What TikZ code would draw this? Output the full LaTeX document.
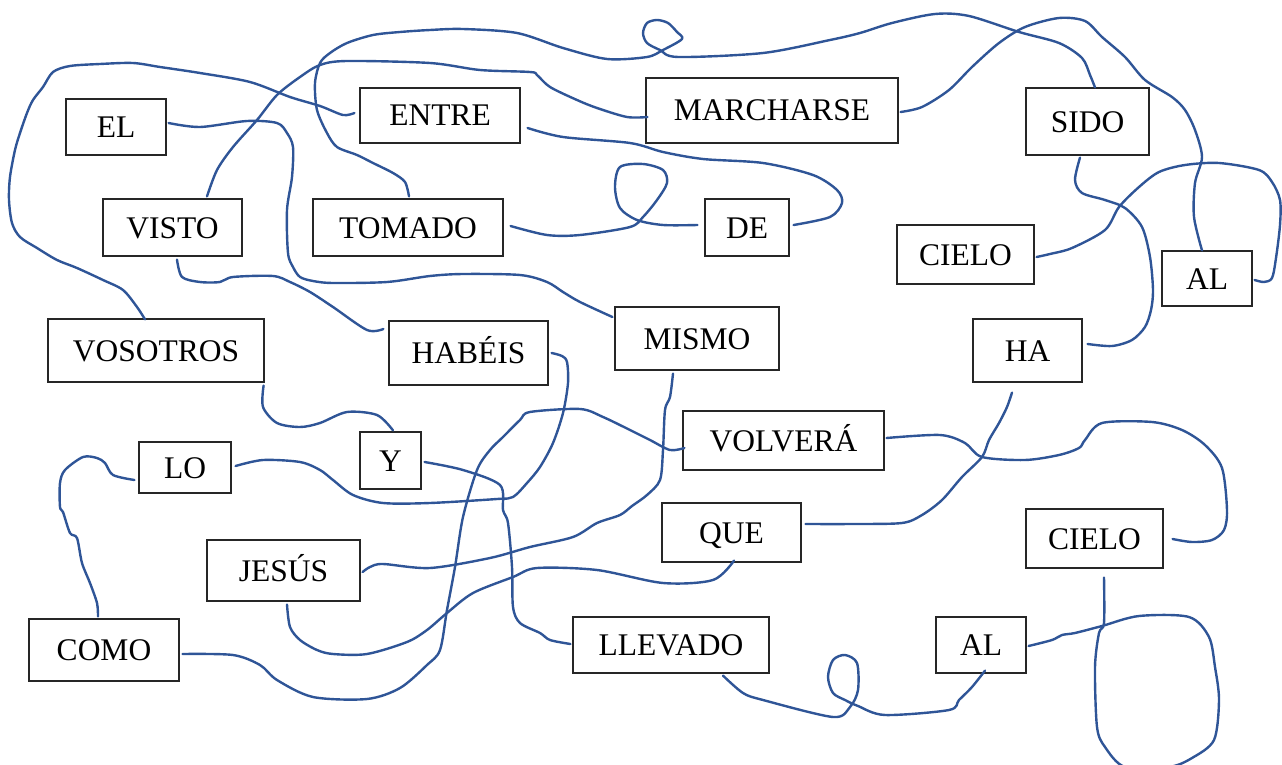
\documentclass[tikz,border=0pt]{standalone}
\usepackage{fontspec}
\setmainfont{Liberation Serif}
\definecolor{wireblue}{RGB}{47,85,151}
\tikzset{
  box/.style={draw=black!85, line width=1.2pt, inner sep=0pt,
    font=\fontsize{31.5}{36}\selectfont, text height=21pt, text depth=0pt},
  wire/.style={draw=wireblue, line width=2.4pt, line cap=round, line join=round},
}
\begin{document}
\begin{tikzpicture}[x=1pt,y=-1pt]
\useasboundingbox (0,0) rectangle (1282,765);
% boxes
\node[box, minimum width=100pt, minimum height=56pt] (el) at (116,127) {EL};
\node[box, minimum width=160pt, minimum height=55pt] (entre) at (440,115.5) {ENTRE};
\node[box, minimum width=252pt, minimum height=65pt] (marcharse) at (772,110.5) {MARCHARSE};
\node[box, minimum width=123pt, minimum height=67pt] (sido) at (1087.5,121.5) {SIDO};
\node[box, minimum width=139pt, minimum height=57pt] (visto) at (172.5,227.5) {VISTO};
\node[box, minimum width=190pt, minimum height=57pt] (tomado) at (408,227.5) {TOMADO};
\node[box, minimum width=84pt, minimum height=57pt] (de) at (747,227.5) {DE};
\node[box, minimum width=137pt, minimum height=59pt] (cieloA) at (965.5,254.5) {CIELO};
\node[box, minimum width=90pt, minimum height=55pt] (alA) at (1207,278.5) {AL};
\node[box, minimum width=216pt, minimum height=63pt] (vosotros) at (156,350.5) {VOSOTROS};
\node[box, minimum width=159pt, minimum height=64pt] (habeis) at (468.5,353) {HABÉIS};
\node[box, minimum width=164pt, minimum height=63pt] (mismo) at (697,338.5) {MISMO};
\node[box, minimum width=109pt, minimum height=63pt] (ha) at (1027.5,350.5) {HA};
\node[box, minimum width=61pt, minimum height=57pt] (y) at (390.5,460.5) {Y};
\node[box, minimum width=92pt, minimum height=51pt] (lo) at (185,467.5) {LO};
\node[box, minimum width=201pt, minimum height=59pt] (volvera) at (783.5,440.5) {VOLVERÁ};
\node[box, minimum width=139pt, minimum height=59pt] (que) at (731.5,532.5) {QUE};
\node[box, minimum width=137pt, minimum height=59pt] (cieloB) at (1094.5,538.5) {CIELO};
\node[box, minimum width=153pt, minimum height=61pt] (jesus) at (283.5,570.5) {JESÚS};
\node[box, minimum width=150pt, minimum height=62pt] (como) at (104,650) {COMO};
\node[box, minimum width=196pt, minimum height=56pt] (llevado) at (671,645) {LLEVADO};
\node[box, minimum width=90pt, minimum height=56pt] (alB) at (981,645) {AL};
% connectors
% EL -> MISMO
\draw[wire] plot[smooth] coordinates {([shift={(2,-4)}]el.east) (200,127) (247,121) (277,123) (287,133) (293,147) (292,177) (287,210) (288,253) (293,267) (300,277) (313,281) (333,283) (387,282) (430,276) (463,274) (520,275) (547,282) (563,292) (580,302) ([shift={(-2,-21.5)}]mismo.west)};
% ENTRE -> VOSOTROS
\draw[wire] plot[smooth] coordinates {([shift={(-5,-2.5)}]entre.west) (343,115) (320,106) (290,97) (250,82) (200,73) (160,67) (133,63) (100,64) (70,66) (53,72) (43,87) (33,100) (27,113) (20,133) (15,150) (10,177) (9,200) (12,223) (20,237) (37,248) (57,260) (77,268) (103,280) (123,290) (137,307) ([shift={(-11,1)}]vosotros.north)};
% VISTO -> MARCHARSE
\draw[wire] plot[smooth] coordinates {([shift={(34.5,-2)}]visto.north) (217,170) (233,147) (257,120) (277,95) (300,77) (320,65) (347,61) (430,63) (480,70) (530,72) (537,75) (550,87) (577,100) (597,108) (627,117) ([shift={(2,6.5)}]marcharse.west)};
% TOMADO -> SIDO
\draw[wire] plot[smooth] coordinates {([shift={(1,-2)}]tomado.north) (405,182) (393,173) (373,163) (357,155) (337,147) (327,133) (317,110) (315,83) (320,63) (330,53) (347,43) (373,35) (400,32) (430,30) (463,29) (517,33) (563,48) (607,59) (647,57) (663,50) (682,39) (677,32) (668,23) (657,20) (647,23) (643,33) (647,43) (660,50) (678,57) (763,53) (830,40) (860,33) (892,23) (935,14) (969,16) (1019,32) (1059,43) (1082,58) (1090,75) ([shift={(7.5,0)}]sido.north)};
% MARCHARSE -> AL
\draw[wire] plot[smooth] coordinates {([shift={(2,1.5)}]marcharse.east) (922,107) (949,90) (972,67) (999,43) (1025,27) (1059,18) (1085,21) (1102,37) (1125,57) (1145,80) (1172,97) (1185,110) (1195,130) (1202,157) (1195,183) (1194,217) ([shift={(-5,0)}]alA.north)};
% AL -> CIELO
\draw[wire] plot[smooth] coordinates {([shift={(2,1.5)}]alA.east) (1264,282) (1272,278) (1276,258) (1280,225) (1280,200) (1272,182) (1259,170) (1219,163) (1185,165) (1159,172) (1139,187) (1119,207) (1105,230) (1072,248) (1050,254) ([shift={(2,2.5)}]cieloA.east)};
% SIDO -> HA
\draw[wire] plot[smooth] coordinates {([shift={(-7.5,2)}]sido.south) (1075,180) (1082,193) (1105,200) (1125,208) (1142,227) (1150,257) (1153,290) (1151,310) (1145,327) (1132,340) (1112,346) ([shift={(5,-6.5)}]ha.east)};
% TOMADO -> DE
\draw[wire] plot[smooth] coordinates {([shift={(7,-1.5)}]tomado.east) (547,235) (580,235) (630,227) (643,217) (657,200) (667,183) (663,170) (643,164) (620,167) (615,187) (620,208) (637,220) (663,225) ([shift={(-7,-2.5)}]de.west)};
% ENTRE -> DE
\draw[wire] plot[smooth] coordinates {([shift={(7,12.5)}]entre.east) (563,137) (630,143) (663,152) (703,159) (763,163) (813,175) (837,190) (842,203) (830,217) ([shift={(4,-2.5)}]de.east)};
% VISTO -> HABEIS
\draw[wire] plot[smooth] coordinates {([shift={(4.5,3)}]visto.south) (182,277) (200,282) (220,282) (233,277) (273,276) (290,282) (310,292) (333,307) (367,330) ([shift={(-5,-24)}]habeis.west)};
% VOSOTROS -> Y
\draw[wire] plot[smooth] coordinates {([shift={(-1,3)}]vosotros.south east) (263,407) (277,423) (300,427) (320,423) (347,412) (377,415) ([shift={(2.5,-1)}]y.north)};
% LO -> COMO
\draw[wire] plot[smooth] coordinates {([shift={(-4,12.5)}]lo.west) (113,475) (105,463) (97,458) (83,457) (65,470) (60,483) (60,507) (63,512) (70,533) (77,538) (82,563) (90,583) (97,603) ([shift={(-6,-2)}]como.north)};
% LO -> HABEIS
\draw[wire] plot[smooth] coordinates {([shift={(4,-1.5)}]lo.east) (263,460) (300,462) (320,470) (333,480) (353,495) (383,503) (430,503) (497,499) (513,497) (527,483) (540,467) (553,443) (563,413) (568,383) (567,362) (562,356) ([shift={(3,0)}]habeis.east)};
% Y -> LLEVADO
\draw[wire] plot[smooth] coordinates {([shift={(3,1.5)}]y.east) (463,470) (500,485) (503,510) (508,523) (512,567) (513,607) (520,623) (540,633) (550,640) ([shift={(-2,-1)}]llevado.west)};
% MISMO -> JESUS
\draw[wire] plot[smooth] coordinates {([shift={(-24,3)}]mismo.south) (670,397) (665,410) (663,450) (660,480) (647,495) (632,506) (620,515) (597,523) (573,537) (530,547) (490,558) (430,568) (383,564) (370,567) ([shift={(2,1.5)}]jesus.east)};
% JESUS -> QUE
\draw[wire] plot[smooth] coordinates {([shift={(3.5,3)}]jesus.south) (290,627) (300,640) (317,650) (333,654) (367,654) (407,642) (427,630) (447,613) (473,593) (513,577) (537,568) (597,570) (663,583) (713,580) ([shift={(2.5,-2)}]que.south)};
% COMO -> VOLVERA
\draw[wire] plot[smooth] coordinates {([shift={(3,4)}]como.east) (233,655) (260,665) (277,680) (313,697) (367,699) (400,688) (427,665) (440,650) (447,610) (455,567) (463,517) (477,470) (490,450) (503,437) (520,420) (530,412) (580,409) (603,417) (630,430) (650,440) (670,450) ([shift={(2,7.5)}]volvera.west)};
% VOLVERA -> CIELO
\draw[wire] plot[smooth] coordinates {([shift={(2,-2.5)}]volvera.east) (940,435) (965,443) (982,457) (1025,460) (1059,455) (1079,448) (1085,440) (1102,423) (1152,422) (1182,430) (1205,445) (1222,468) (1227,510) (1224,530) (1212,540) (1192,542) ([shift={(9,0.5)}]cieloB.east)};
% HA -> QUE
\draw[wire] plot[smooth] coordinates {([shift={(-15.5,10)}]ha.south) (1007,407) (999,423) (989,440) (982,457) (962,477) (942,500) (922,515) (902,523) (852,524) ([shift={(4,-8.5)}]que.east)};
% LLEVADO -> AL
\draw[wire] plot[smooth] coordinates {([shift={(52,2)}]llevado.south) (743,693) (763,700) (833,717) (850,707) (858,690) (857,663) (845,655) (833,660) (828,677) (833,693) (845,700) (858,706) (885,715) (949,710) (959,700) (972,687) ([shift={(4,-3)}]alB.south)};
% AL -> CIELO
\draw[wire] plot[smooth] coordinates {([shift={(2,1)}]alB.east) (1052,640) (1062,635) (1075,633) (1102,626) (1139,616) (1189,617) (1209,637) (1215,667) (1219,700) (1214,740) (1192,758) (1169,767) (1125,767) (1105,747) (1097,727) (1095,667) (1099,633) (1104,623) ([shift={(9.5,9)}]cieloB.south)};
\end{tikzpicture}
\end{document}
